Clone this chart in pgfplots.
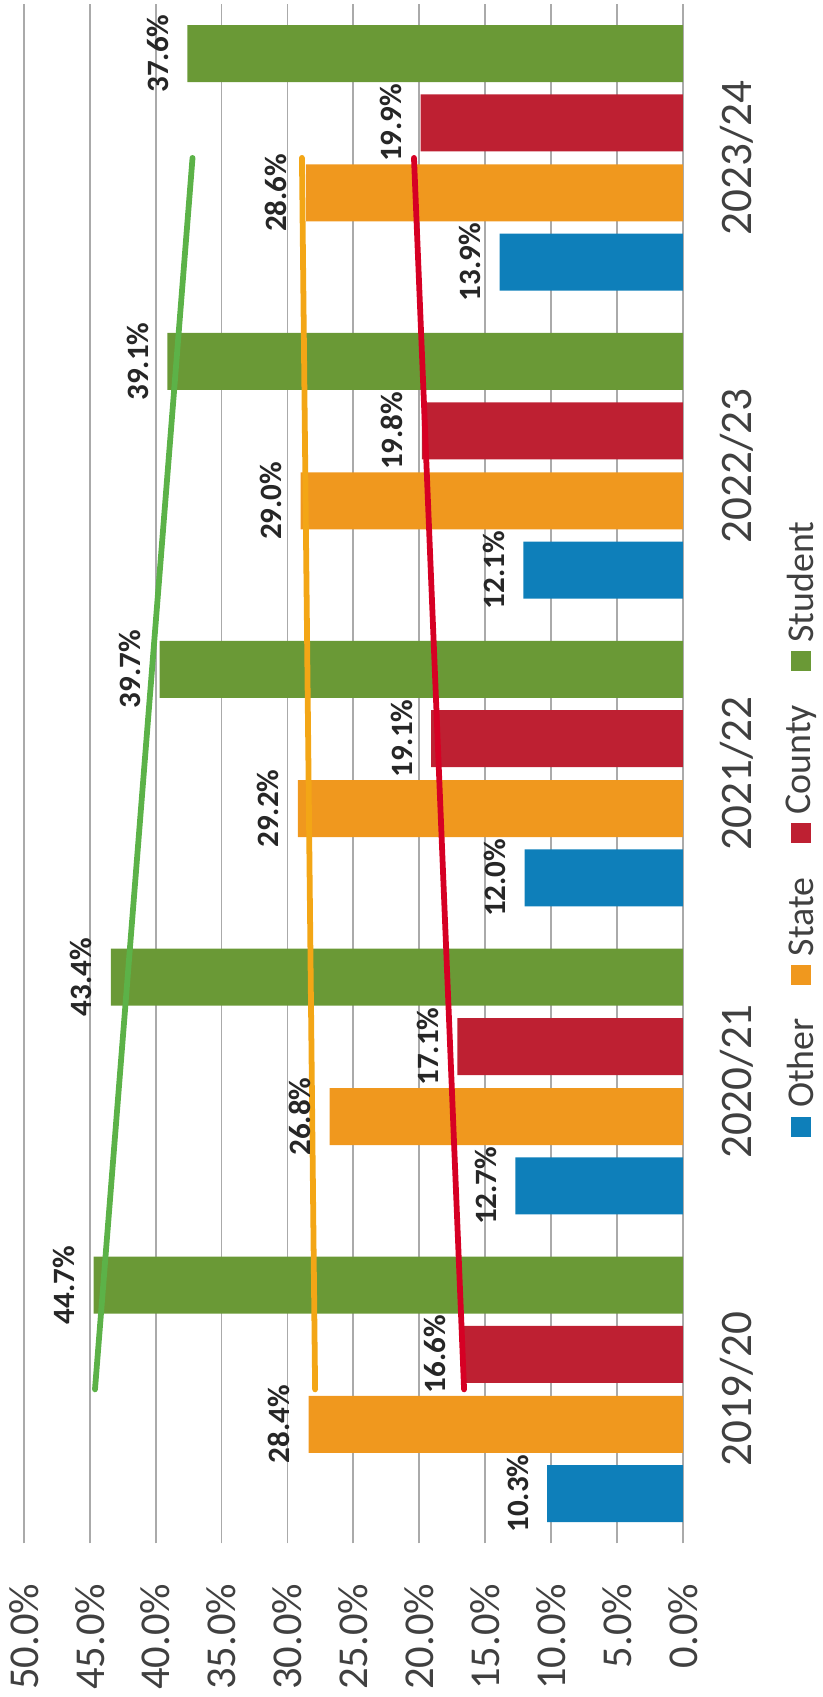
\documentclass[border=0pt]{standalone}
\usepackage{graphicx}
\usepackage{pgfplots}
\pgfplotsset{compat=1.18}
\usepackage{fontspec}
\setmainfont{Carlito}

\definecolor{cOther}{RGB}{14,127,186}
\definecolor{cState}{RGB}{240,152,30}
\definecolor{cCounty}{RGB}{190,32,50}
\definecolor{cStudent}{RGB}{106,153,54}
\definecolor{tStudent}{RGB}{92,178,72}
\definecolor{tState}{RGB}{243,166,22}
\definecolor{tCounty}{RGB}{214,0,36}
\definecolor{gridgray}{RGB}{170,170,170}
\definecolor{labelgray}{RGB}{64,64,64}

\pgfplotsset{
  % #1 = bar shift of the series, also used to move its labels
  lab/.style={
    xbar, bar width=15.8pt, bar shift=#1, draw=none,
    point meta=x,
    nodes near coords={\rotatebox{90}{\pgfmathprintnumber[fixed,fixed zerofill,precision=1]{\pgfplotspointmeta}\%}},
    every node near coord/.append style={anchor=east, inner xsep=5pt, inner ysep=0pt, yshift=#1,
      font=\bfseries\fontsize{8.6}{10}\selectfont, text=black!85},
  },
}

\begin{document}
\begin{tikzpicture}
\begin{axis}[
    at={(0,0)}, anchor=south west,
    scale only axis,
    width=182.7pt, height=426.7pt,
    xmin=0, xmax=50, x dir=reverse,
    ymin=-0.5, ymax=4.5,
    xtick={0,5,...,50},
    xticklabels={0.0\%,5.0\%,10.0\%,15.0\%,20.0\%,25.0\%,30.0\%,35.0\%,40.0\%,45.0\%,50.0\%},
    ytick={0,1,2,3,4},
    yticklabels={2019/20,2020/21,2021/22,2022/23,2023/24},
    yticklabel pos=right,
    axis line style={draw=none},
    tick style={draw=none},
    xmajorgrids,
    major grid style={draw=gridgray, line width=0.5pt},
    xticklabel style={rotate=90, anchor=east, inner xsep=11pt, font=\fontsize{11.8}{14}\selectfont, text=labelgray},
    yticklabel style={rotate=90, anchor=north, inner ysep=10pt, font=\fontsize{12.5}{14}\selectfont, text=labelgray},
    clip=false,
    /pgf/number format/assume math mode=true,
]
% bars: Other, State, County, Student
\addplot[lab=-28.9pt, fill=cOther]
  coordinates {(10.3,0) (12.7,1) (12.0,2) (12.1,3) (13.9,4)};
\addplot[lab=-9.7pt, fill=cState]
  coordinates {(28.4,0) (26.8,1) (29.2,2) (29.0,3) (28.6,4)};
\addplot[lab=9.7pt, fill=cCounty]
  coordinates {(16.6,0) (17.1,1) (19.1,2) (19.8,3) (19.9,4)};
\addplot[lab=28.9pt, fill=cStudent]
  coordinates {(44.7,0) (43.4,1) (39.7,2) (39.1,3) (37.6,4)};

% linear trend lines
\addplot[no marks, draw=tStudent, line width=1.6pt, line cap=round] coordinates {(44.6,0) (37.2,4)};
\addplot[no marks, draw=tState, line width=1.6pt, line cap=round] coordinates {(27.9,0) (28.9,4)};
\addplot[no marks, draw=tCounty, line width=1.6pt, line cap=round] coordinates {(16.6,0) (20.4,4)};
\end{axis}

% legend (rotated, like the chart)
\foreach \c/\t/\y in {cOther/Other/115.5, cState/State/157.5, cCounty/County/196.8, cStudent/Student/244.5} {
  \node[fill=\c, minimum size=5.6pt, inner sep=0pt] at (215.4pt,\y pt) {};
  \node[rotate=90, anchor=west, inner sep=0pt, font=\fontsize{10.5}{12}\selectfont, text=labelgray]
    at (215.4pt,\y pt+5pt) {\t};
}

\pgfresetboundingbox
\path[use as bounding box] (-6.6pt,-42.6pt) rectangle (221.4pt,427.8pt);
\end{tikzpicture}
\end{document}
